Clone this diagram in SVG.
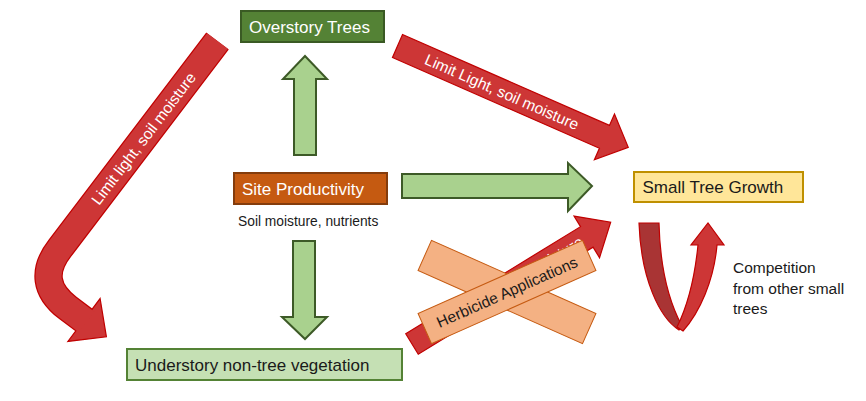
<svg xmlns="http://www.w3.org/2000/svg" width="866" height="401" viewBox="0 0 866 401">
<style>
text{font-family:"Liberation Sans",Arial,sans-serif}
.lbl{font-size:17px}
.w{fill:#ffffff}
.k{fill:#1a1a1a}
.garrow{fill:#A9D18E;stroke:#3D5A27;stroke-width:2;stroke-linejoin:miter}
.rarrow{fill:#CD3636;stroke:#C00000;stroke-width:1.2;stroke-linejoin:miter}
.atxt{font-size:15.5px;fill:#ffffff}
.xbar{fill:#F4B183;stroke:#C55A11;stroke-width:1}
</style>
<rect width="866" height="401" fill="#ffffff"/>

<g id="connectors">
  <!-- green: site -> overstory -->
  <polygon class="garrow" points="294,155 294,79 283,79 305,56 327,79 316,79 316,155"/>
  <!-- green: site -> small tree -->
  <polygon class="garrow" points="402,174 568,174 568,163 592,186 568,211 568,198 402,198"/>
  <!-- green: site -> understory -->
  <polygon class="garrow" points="293,241 315,241 315,317 327,317 305,339 282,317 293,317"/>

  <!-- red: overstory -> small tree -->
  <g transform="translate(397.5,46) rotate(23.7)">
    <polygon class="rarrow" points="0,-12.5 226,-12.5 226,-25 252,0 226,25 226,12.5 0,12.5"/>
    <text class="atxt" x="114" y="5.5" text-anchor="middle">Limit Light, soil moisture</text>
  </g>

  <!-- red curved: overstory -> understory -->
  <g id="curved-arrow">
    <path d="M217.5,41 L60,248 Q33.6,282 68,308 L84,320" fill="none" stroke="#C00000" stroke-width="28.4"/>
    <polygon class="rarrow" points="100.1,298.6 106.4,336.8 67.9,341.4"/>
    <path d="M217.5,41 L60,248 Q33.6,282 68,308 L86.5,322" fill="none" stroke="#CD3636" stroke-width="26"/>
    <text class="atxt" transform="translate(143.5,138.5) rotate(-52.7)" x="0" y="5.5" text-anchor="middle">Limit light, soil moisture</text>
  </g>

  <!-- red: understory -> small tree (crossed out) -->
  <g transform="translate(412,344) rotate(-31.5)">
    <polygon class="rarrow" points="0,-12 205,-12 205,-24.4 233,0 205,24.4 205,12 0,12"/>
    <text class="atxt" x="199" y="5.5" text-anchor="end">Limit light, soil moisture</text>
  </g>

  <!-- self loop: competition -->
  <g id="loop">
    <path d="M639,223 L659,223 C660,265 668,300 682,326 L679,330 C660,318 641,280 639,223 Z" fill="#A93434" stroke="#C00000" stroke-width="1.2"/>
    <path d="M677,327 C688,305 695,275 698,245 L691,245 L708,223 L724,245 L717,245 C714,280 700,312 683,331 Z" fill="#CD3636" stroke="#C00000" stroke-width="1.2"/>
  </g>
</g>

<g id="overstory">
  <rect x="241" y="11" width="143" height="31" fill="#548235" stroke="#3A5A24" stroke-width="2"/>
  <text class="lbl w" x="249" y="32.5">Overstory Trees</text>
</g>

<g id="site">
  <rect x="234" y="173" width="153" height="31" fill="#C55A11" stroke="#843C0C" stroke-width="2"/>
  <text class="lbl w" x="242" y="195">Site Productivity</text>
  <text class="k" x="238" y="226" font-size="13.8">Soil moisture, nutrients</text>
</g>

<g id="understory">
  <rect x="127" y="349" width="275" height="31" fill="#C5E0B4" stroke="#548235" stroke-width="2"/>
  <text class="lbl k" x="135" y="371" font-size="17.6">Understory non-tree vegetation</text>
</g>

<g id="small-tree">
  <rect x="634" y="172" width="169" height="30" fill="#FFE699" stroke="#BF9000" stroke-width="2"/>
  <text class="lbl k" x="642.5" y="192.5">Small Tree Growth</text>
</g>

<g id="herbicide">
  <rect class="xbar" x="-90" y="-16.5" width="180" height="33" transform="translate(507,292) rotate(24)"/>
  <rect class="xbar" x="-90" y="-16.5" width="180" height="33" transform="translate(507,292) rotate(-24)"/>
  <text class="k" font-size="15.5" transform="translate(507,292) rotate(-24)" x="0" y="5.5" text-anchor="middle">Herbicide Applications</text>
</g>

<g id="competition">
  <text class="k" font-size="15.5"><tspan x="733" y="273">Competition</tspan><tspan x="733" y="293.5">from other small</tspan><tspan x="733" y="314">trees</tspan></text>
</g>
</svg>
